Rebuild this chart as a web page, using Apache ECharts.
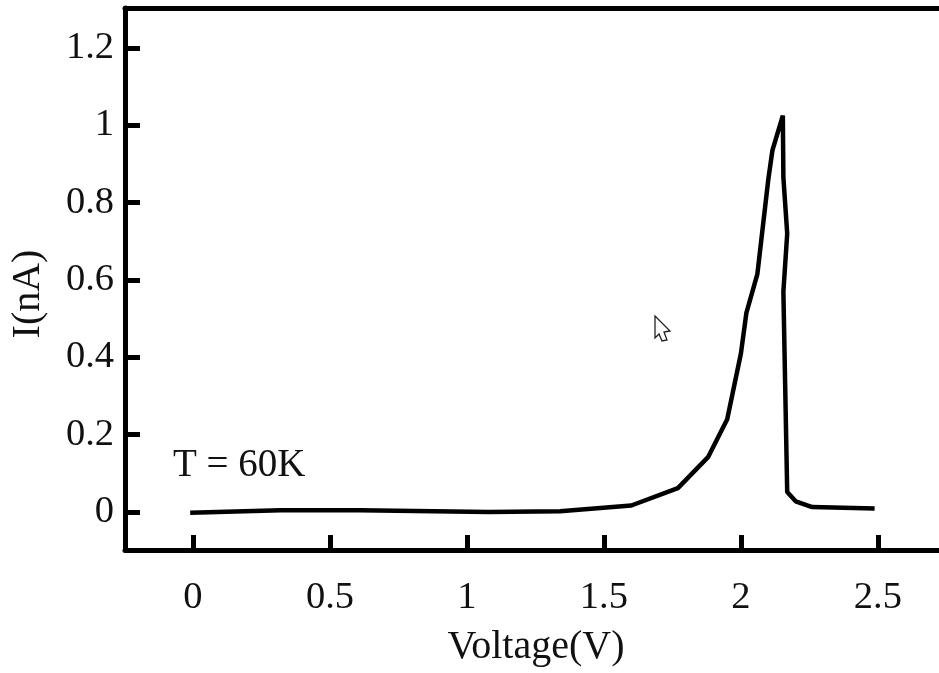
<!DOCTYPE html>
<html><head><meta charset="utf-8">
<style>html,body{margin:0;padding:0;background:#fff}#c{width:939px;height:673px}</style>
<script src="https://cdn.jsdelivr.net/npm/echarts@6/dist/echarts.min.js"></script>
</head><body><div id="c"></div>
<script>
const voltage = [-0.01,0.32,0.61,1.08,1.34,1.6,1.77,1.88,1.95,2.0,2.02,2.06,2.1,2.115,2.153,2.155,2.169,2.155,2.169,2.2,2.26,2.488];
const current = [-0.002,0.005,0.005,0.0,0.002,0.017,0.062,0.142,0.24,0.41,0.515,0.615,0.86,0.935,1.025,0.865,0.72,0.57,0.052,0.028,0.013,0.009];
const xTicks = [0,0.5,1,1.5,2,2.5];
const yTicks = [0,0.2,0.4,0.6,0.8,1,1.2];
const xName = 'Voltage(V)';
const yName = 'I(nA)';
const note = 'T = 60K';
const font = '"Liberation Serif", serif';
const ink = '#000';
const chart = echarts.init(document.getElementById('c'), null, {renderer:'canvas'});
const plain = {show:false};
chart.setOption({
  animation:false, backgroundColor:'#fff',
  grid:{left:125,right:0,top:8,bottom:123,containLabel:false,outerBoundsMode:'none'},
  xAxis:[{
    type:'value',min:-0.248,max:2.723,position:'bottom',
    name:xName,nameLocation:'middle',nameGap:77,
    nameTextStyle:{fontFamily:font,fontSize:40,color:'#111',padding:[0,0,0,8]},
    splitLine:plain,
    axisLine:{show:true,onZero:false,lineStyle:{color:ink,width:5}},
    axisTick:{show:true,inside:true,length:15,lineStyle:{color:ink,width:5},customValues:xTicks},
    axisLabel:{show:true,margin:28,fontFamily:font,fontSize:38.5,color:'#111',customValues:xTicks,formatter:v=>String(v)}
  },{
    type:'value',min:-0.248,max:2.723,position:'top',
    splitLine:plain,axisTick:plain,axisLabel:plain,
    axisLine:{show:true,onZero:false,lineStyle:{color:ink,width:5}}
  }],
  yAxis:{
    type:'value',min:-0.098,max:1.303,
    name:yName,nameLocation:'middle',nameGap:77,nameRotate:90,
    nameTextStyle:{fontFamily:font,fontSize:40,color:'#111',padding:[0,30,0,0]},
    splitLine:plain,
    axisLine:{show:true,onZero:false,lineStyle:{color:ink,width:5}},
    axisTick:{show:true,inside:true,length:15,lineStyle:{color:ink,width:5},customValues:yTicks},
    axisLabel:{show:true,margin:11,padding:[7,0,0,0],fontFamily:font,fontSize:38.5,color:'#111',customValues:yTicks,formatter:v=>String(v)}
  },
  series:[{
    type:'line',xAxisIndex:0,showSymbol:false,smooth:false,
    lineStyle:{color:ink,width:4.5,join:'bevel'},
    data:voltage.map((v,i)=>[v,current[i]])
  }],
  graphic:[
    {type:'text',left:173,top:446,style:{text:note,fontFamily:font,fontSize:39,fill:'#111'}},
    {type:'polygon',shape:{points:[[655,316],[670,331],[664,332],[667,340],[662,341],[659,334],[655,338]]},
     style:{fill:'#fff',stroke:'#222',lineWidth:1.3}}
  ]
});
</script></body></html>
